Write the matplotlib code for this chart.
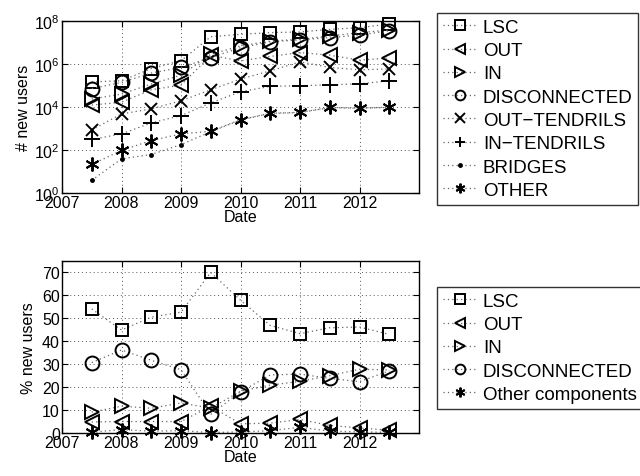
import numpy as np
import matplotlib
matplotlib.use('Agg')
import matplotlib.pyplot as plt
from matplotlib.ticker import FixedLocator

plt.rcParams['font.family'] = ['Liberation Sans', 'DejaVu Sans']
plt.rcParams['font.size'] = 11

#---------------------------- data ---------------------------------
dates = [2007.5, 2008, 2008.5, 2009, 2009.5, 2010, 2010.5, 2011, 2011.5, 2012, 2012.5]

# log10 of number of new users
lsc_log = [5.17, 5.22, 5.79, 6.15, 7.27, 7.38, 7.46, 7.49, 7.61, 7.69, 7.86]
out_log = [4.09, 4.22, 4.80, 5.02, 6.40, 6.15, 6.35, 6.53, 6.41, 6.18, 6.28]
in_log = [4.37, 4.60, 5.07, 5.48, 6.45, 6.84, 7.07, 7.15, 7.30, 7.46, 7.58]
disc_log = [4.86, 5.14, 5.58, 5.84, 6.30, 6.76, 7.03, 7.12, 7.23, 7.34, 7.55]
outt_log = [2.93, 3.68, 3.91, 4.29, 4.80, 5.30, 5.68, 6.10, 5.84, 5.73, 5.77]
int_log = [2.49, 2.75, 3.26, 3.60, 4.19, 4.71, 4.96, 4.99, 5.03, 5.08, 5.22]
bridges_log = [0.59, 1.59, 1.79, 2.25, 2.85, 3.40, 3.70, 3.74, 3.97, 3.94, 3.98]
other_log = [1.33, 1.98, 2.44, 2.75, 2.87, 3.41, 3.71, 3.75, 3.98, 3.95, 3.99]

# percentage of new users
lsc_pct = [54.1, 44.9, 50.5, 52.7, 70.0, 57.9, 46.9, 43.3, 45.9, 46.2, 43.0]
out_pct = [4.8, 5.0, 5.0, 5.0, 11.7, 4.0, 4.3, 5.9, 3.3, 2.2, 1.2]
in_pct = [9.1, 11.7, 10.8, 13.1, 10.8, 18.2, 20.9, 22.5, 25.0, 27.8, 27.5]
disc_pct = [30.7, 36.2, 31.7, 27.6, 8.1, 18.0, 25.3, 25.7, 23.8, 22.4, 27.1]
other_pct = [0.3, 1.5, 0.8, 1.0, 0.2, 0.5, 1.0, 2.5, 0.8, 0.5, 0.3]

top_series = [
    ('LSC', lsc_log, 's', 9),
    ('OUT', out_log, '<', 10),
    ('IN', in_log, '>', 10),
    ('DISCONNECTED', disc_log, 'o', 10),
    ('OUT\u2212TENDRILS', outt_log, 'x', 8),
    ('IN\u2212TENDRILS', int_log, '+', 11),
    ('BRIDGES', bridges_log, '.', 5),
    ('OTHER', other_log, (6, 2, 0), 10),
]
bottom_series = [
    ('LSC', lsc_pct, 's', 9),
    ('OUT', out_pct, '<', 10),
    ('IN', in_pct, '>', 10),
    ('DISCONNECTED', disc_pct, 'o', 10),
    ('Other components', other_pct, (6, 2, 0), 10),
]

fig = plt.figure(figsize=(6.4, 4.77), dpi=100)
W, H = 640.0, 477.0
ax1 = fig.add_axes([62 / W, 1 - 194 / H, 357 / W, 172 / H])
ax2 = fig.add_axes([62 / W, 1 - 434 / H, 357 / W, 172 / H])


def style_axes(ax):
    ax.set_xlim(2007, 2013)
    ax.set_xticks([2007, 2008, 2009, 2010, 2011, 2012])
    ax.grid(True, linestyle=(0, (1, 3)), color='#555555', linewidth=0.7)
    ax.tick_params(direction='in', top=True, right=True, length=4, width=0.8,
                   labelsize=11.5, pad=1.5)
    for s in ax.spines.values():
        s.set_linewidth(1.0)
    ax.set_xlabel('Date', fontsize=11.5, labelpad=-1)


def draw(ax, series, ylog):
    handles = []
    for name, vals, mk, ms in series:
        yv = np.power(10.0, vals) if ylog else np.array(vals)
        mew = 1.4 if mk != '.' else 1.0
        h, = ax.plot(dates, yv, linestyle=(0, (1, 2.5)), color='#666666',
                     linewidth=0.9, marker=mk, markersize=ms,
                     markerfacecolor='none' if mk not in ('.', (6, 2, 0)) else 'black',
                     markeredgecolor='black', markeredgewidth=mew, label=name,
                     clip_on=False)
        handles.append(h)
    return handles


h1 = draw(ax1, top_series, True)
ax1.set_yscale('log')
ax1.set_ylim(1, 1e8)
ax1.yaxis.set_major_locator(FixedLocator([1, 1e2, 1e4, 1e6, 1e8]))
ax1.yaxis.set_minor_locator(FixedLocator([]))
style_axes(ax1)
ax1.set_ylabel('# new users', fontsize=11.5, labelpad=2)

h2 = draw(ax2, bottom_series, False)
ax2.set_ylim(0, 75)
ax2.set_yticks(range(0, 80, 10))
style_axes(ax2)
ax2.set_ylabel('% new users', fontsize=11.5, labelpad=4)

leg_kw = dict(frameon=True, fancybox=False, edgecolor='black', fontsize=13.5,
              handlelength=1.8, handletextpad=0.35, borderpad=0.3,
              labelspacing=0.33, borderaxespad=0)
l1 = fig.legend(handles=h1, loc='upper left', bbox_to_anchor=(437 / W, 1 - 14 / H), **leg_kw)
l2 = fig.legend(handles=h2, loc='upper left', bbox_to_anchor=(437 / W, 1 - 288 / H), **leg_kw)
for l in (l1, l2):
    l.get_frame().set_linewidth(1.0)
    for lh in l.legend_handles:
        lh.set_markersize(min(lh.get_markersize(), 7))

fig.savefig('out.png', dpi=100)
